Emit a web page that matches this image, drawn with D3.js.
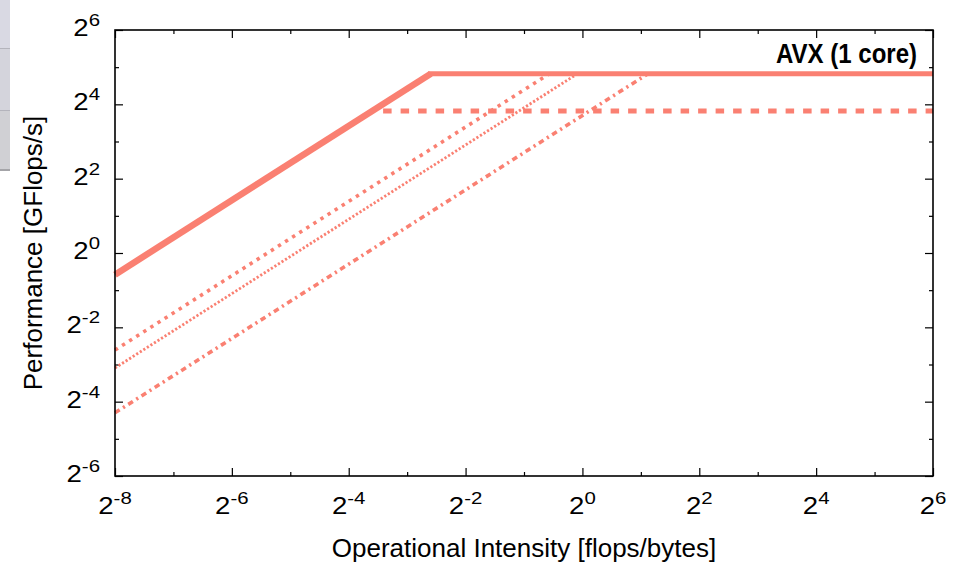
<!DOCTYPE html>
<html lang="en">
<head>
<meta charset="UTF-8">
<title>Roofline - AVX (1 core)</title>
<script src="https://d3js.org/d3.v7.min.js"></script>
<style>
  body { margin: 0; background: #fff; }
  svg { display: block; font-family: "Liberation Sans", Arial, Helvetica, sans-serif; }
  .frame { fill: none; stroke: #000; stroke-width: 1.6; }
  .tick line { stroke: #000; stroke-width: 1.2; }
  .domain { display: none; }
  .roof { fill: none; stroke: #fa8072; }
</style>
</head>
<body>
<div id="chart"></div>
<script>
  // exponents of the tick marks (base 2)
  const xExponents = [-8, -7, -6, -5, -4, -3, -2, -1, 0, 1, 2, 3, 4, 5, 6];
  const yExponents = [-6, -5, -4, -3, -2, -1, 0, 1, 2, 3, 4, 5, 6];

  // compute ceilings [GFlops/s]
  const peakLabel = "AVX (1 core)";
  const peakGflops = 28.3;
  const lowerCeilingGflops = 14.1;
  const lowerCeilingStart = 0.094;   // flops/byte where the dashed ceiling begins

  // memory bandwidth roofs [GB/s], first one is the main roof
  const bandwidths = [171, 41.9, 30.0, 13.0];

  // line look for each bandwidth roof
  const roofWidths = [6.5, 3.6, 2.8, 3.6];
  const roofDashes = [null, "3.4 5", "2.2 2", "5.5 4 2.2 4"];

  const width = 960, height = 565;
  const margin = { top: 30, right: 27, bottom: 89, left: 115 };

  const svg = d3.select("#chart").append("svg")
    .attr("width", width)
    .attr("height", height);

  // grey window strip at the left edge of the screenshot
  const strip = svg.append("g");
  strip.append("rect").attr("x", 0).attr("y", 0).attr("width", 10).attr("height", 48).attr("fill", "#d9d9e3");
  strip.append("rect").attr("x", 0).attr("y", 48).attr("width", 10).attr("height", 62).attr("fill", "#d4d4dc");
  strip.append("rect").attr("x", 0).attr("y", 110).attr("width", 10).attr("height", 60).attr("fill", "#d0d0d4");
  [48, 110].forEach(y => strip.append("rect").attr("x", 0).attr("y", y).attr("width", 10).attr("height", 1).attr("fill", "#b4b4bc"));
  strip.append("rect").attr("x", 0).attr("y", 169).attr("width", 10).attr("height", 2).attr("fill", "#a4a4a8");

  const x = d3.scaleLog().base(2)
    .domain([2 ** -8, 2 ** 6])
    .range([margin.left, width - margin.right]);
  const y = d3.scaleLog().base(2)
    .domain([2 ** -6, 2 ** 6])
    .range([height - margin.bottom, margin.top]);

  const x0 = x.range()[0], x1 = x.range()[1];
  const y0 = y.range()[0], y1 = y.range()[1];

  const major = xs => xs.filter(e => e % 2 === 0).map(e => 2 ** e);
  const minor = xs => xs.filter(e => e % 2 !== 0).map(e => 2 ** e);

  // ticks on all four sides, pointing inwards
  function ticks(axisFn, scale, exps, transform) {
    svg.append("g").attr("transform", transform)
      .call(axisFn(scale).tickValues(major(exps)).tickSize(-8).tickFormat(""));
    svg.append("g").attr("transform", transform)
      .call(axisFn(scale).tickValues(minor(exps)).tickSize(-4).tickFormat(""));
  }
  ticks(d3.axisBottom, x, xExponents, `translate(0,${y0})`);
  ticks(d3.axisTop, x, xExponents, `translate(0,${y1})`);
  ticks(d3.axisLeft, y, yExponents, `translate(${x0},0)`);
  ticks(d3.axisRight, y, yExponents, `translate(${x1},0)`);

  // roofs
  const line = d3.line().x(d => x(d[0])).y(d => y(d[1]));
  const xMin = x.domain()[0], xMax = x.domain()[1];

  bandwidths.forEach((bw, i) => {
    const ridge = peakGflops / bw;
    svg.append("path")
      .attr("class", "roof")
      .attr("d", line([[xMin, bw * xMin], [ridge, peakGflops]]))
      .attr("stroke-width", roofWidths[i])
      .attr("stroke-dasharray", roofDashes[i]);
    if (i === 0) {
      // flat compute roof to the right edge
      svg.append("path")
        .attr("class", "roof")
        .attr("d", line([[ridge * 0.97, peakGflops], [xMax, peakGflops]]))
        .attr("stroke-width", 5);
    }
  });

  // lower compute ceiling
  svg.append("path")
    .attr("class", "roof")
    .attr("d", line([[lowerCeilingStart, lowerCeilingGflops], [xMax, lowerCeilingGflops]]))
    .attr("stroke-width", 5)
    .attr("stroke-dasharray", "8.5 9");

  svg.append("rect")
    .attr("class", "frame")
    .attr("x", x0).attr("y", y1)
    .attr("width", x1 - x0).attr("height", y0 - y1);

  // tick labels 2^n, the font in the original is drawn wide
  function powLabel(t, e) {
    t.append("tspan").text("2");
    t.append("tspan").attr("font-size", 17).attr("dy", -10).text(e);
  }
  major(xExponents).forEach(v => {
    svg.append("text")
      .attr("transform", `translate(${x(v)},${y0 + 38}) scale(1.2,1)`)
      .attr("text-anchor", "middle")
      .attr("font-size", 23)
      .call(powLabel, Math.log2(v));
  });
  major(yExponents).forEach(v => {
    svg.append("text")
      .attr("transform", `translate(${x0 - 15},${y(v) + 6}) scale(1.2,1)`)
      .attr("text-anchor", "end")
      .attr("font-size", 23)
      .call(powLabel, Math.log2(v));
  });

  // axis titles
  svg.append("text")
    .attr("x", (x0 + x1) / 2).attr("y", 557)
    .attr("text-anchor", "middle")
    .attr("font-size", 26)
    .text("Operational Intensity [flops/bytes]");
  svg.append("text")
    .attr("transform", `translate(42,${(y0 + y1) / 2}) rotate(-90)`)
    .attr("text-anchor", "middle")
    .attr("font-size", 26)
    .text("Performance [GFlops/s]");

  svg.append("text")
    .attr("x", 917).attr("y", 63)
    .attr("text-anchor", "end")
    .attr("font-size", 27)
    .attr("font-weight", "bold")
    .attr("textLength", 141)
    .attr("lengthAdjust", "spacingAndGlyphs")
    .text(peakLabel);
</script>
</body>
</html>
